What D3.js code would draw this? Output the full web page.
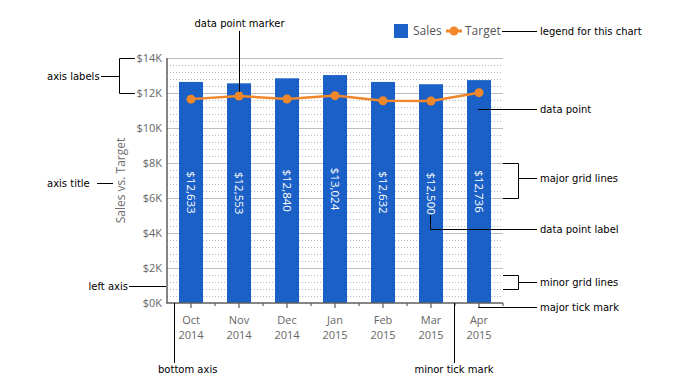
<!DOCTYPE html>
<html>
<head>
<meta charset="utf-8">
<script src="https://cdn.jsdelivr.net/npm/d3@7"></script>
<style>
  html, body { margin: 0; padding: 0; background: #fff; }
  svg { display: block; }
</style>
</head>
<body>
<svg id="chart" width="697" height="388"></svg>
<script>
// ---- data ----
const months = ["Oct", "Nov", "Dec", "Jan", "Feb", "Mar", "Apr"];
const years = ["2014", "2014", "2014", "2015", "2015", "2015", "2015"];
const categories = months.map((m, i) => m + " " + years[i]);
const sales = [12633, 12553, 12840, 13024, 12632, 12500, 12736];
const target = [11650, 11830, 11660, 11850, 11560, 11540, 12020];
const yTicks = [0, 2000, 4000, 6000, 8000, 10000, 12000, 14000];
const yMinorStep = 400;
const seriesNames = ["Sales", "Target"];
const axisTitle = "Sales vs. Target";

// ---- style ----
const barColor = "#1b60c6";
const lineColor = "#f0872b";
const tickColor = "#666";
const annFont = "'DejaVu Sans', Verdana, sans-serif";
const chartFont = "'Open Sans', 'Noto Sans', sans-serif";

const svg = d3.select("#chart");
const L = 167, R = 503, T = 58, B = 303;

const x = d3.scaleBand().domain(categories).range([L, R]).paddingInner(0.5).paddingOuter(0.25);
const y = d3.scaleLinear().domain([0, 14000]).range([B, T]);

// minor grid
const minor = d3.range(0, 14000 + 1, yMinorStep).filter(v => v % 2000 !== 0);
svg.append("g").selectAll("line").data(minor).join("line")
  .attr("x1", L).attr("x2", R)
  .attr("y1", d => Math.round(y(d)) + 0.5).attr("y2", d => Math.round(y(d)) + 0.5)
  .attr("stroke", "#b8b8b8").attr("stroke-width", 1).attr("stroke-dasharray", "1,2");
// major grid
svg.append("g").selectAll("line").data(yTicks.filter(v => v > 0)).join("line")
  .attr("x1", L).attr("x2", R)
  .attr("y1", d => Math.round(y(d)) + 0.5).attr("y2", d => Math.round(y(d)) + 0.5)
  .attr("stroke", "#bdbdbd").attr("stroke-width", 1.2);

// bars
svg.append("g").selectAll("rect").data(sales).join("rect")
  .attr("x", (d, i) => x(categories[i]))
  .attr("width", x.bandwidth())
  .attr("y", d => y(d))
  .attr("height", d => y(0) - y(d))
  .attr("fill", barColor);

// bar labels
svg.append("g").selectAll("text").data(sales).join("text")
  .attr("transform", (d, i) => `translate(${x(categories[i]) + x.bandwidth() / 2},${(y(d) + y(0)) / 2}) rotate(90)`)
  .attr("text-anchor", "middle").attr("dy", "0.35em")
  .attr("font-family", chartFont).attr("font-size", 11.5).attr("fill", "#fff")
  .text(d => "$" + d3.format(",")(d));

// target line
const cx = (d, i) => x(categories[i]) + x.bandwidth() / 2;
svg.append("path").datum(target)
  .attr("d", d3.line().x(cx).y(d => y(d)))
  .attr("fill", "none").attr("stroke", lineColor).attr("stroke-width", 2.5);
svg.append("g").selectAll("circle").data(target).join("circle")
  .attr("cx", cx).attr("cy", d => y(d)).attr("r", 4.5).attr("fill", lineColor);

// y axis
const yAxis = svg.append("g").attr("transform", `translate(${L},0)`)
  .call(d3.axisLeft(y).tickValues(yTicks).tickSize(0).tickPadding(5).tickFormat(d => "$" + d / 1000 + "K"));
yAxis.select(".domain").remove();
yAxis.selectAll("text").attr("font-family", chartFont).attr("font-size", 11).attr("fill", tickColor);

// x axis
const xAxis = svg.append("g").attr("transform", `translate(0,${B})`)
  .call(d3.axisBottom(x).tickSize(5).tickSizeOuter(0).tickPadding(6));
xAxis.select(".domain").remove();
xAxis.selectAll(".tick line").attr("stroke", tickColor).attr("stroke-width", 1.3);
xAxis.selectAll(".tick text").each(function(d, i) {
  const t = d3.select(this).text("").attr("font-family", chartFont).attr("font-size", 11).attr("fill", tickColor);
  t.append("tspan").attr("x", 0).attr("dy", "0.9em").text(months[i]);
  t.append("tspan").attr("x", 0).attr("dy", "1.4em").text(years[i]);
});
// minor x ticks at band boundaries
svg.append("g").selectAll("line").data(categories.slice(1).concat([null])).join("line")
  .attr("x1", (d, i) => L + x.step() * (i + 1)).attr("x2", (d, i) => L + x.step() * (i + 1))
  .attr("y1", B).attr("y2", B + 3).attr("stroke", tickColor).attr("stroke-width", 1.3);

// axis lines
svg.append("line").attr("x1", L).attr("x2", L).attr("y1", T).attr("y2", B + 0.5)
  .attr("stroke", "#5e5e5e").attr("stroke-width", 1.5);
svg.append("line").attr("x1", L - 0.5).attr("x2", R).attr("y1", B).attr("y2", B)
  .attr("stroke", "#5e5e5e").attr("stroke-width", 1.5);

// axis title
svg.append("text").attr("transform", `translate(121,${(T + B) / 2}) rotate(-90)`)
  .attr("text-anchor", "middle").attr("dy", "0.35em")
  .attr("font-family", chartFont).attr("font-size", 12).attr("fill", "#707070")
  .text(axisTitle);

// legend
const lg = svg.append("g").attr("font-family", chartFont).attr("font-size", 12).attr("fill", "#555");
lg.append("rect").attr("x", 394).attr("y", 24).attr("width", 14).attr("height", 14).attr("fill", barColor);
lg.append("text").attr("x", 413).attr("y", 31).attr("dy", "0.35em").text(seriesNames[0]);
lg.append("line").attr("x1", 446).attr("x2", 462).attr("y1", 31).attr("y2", 31).attr("stroke", lineColor).attr("stroke-width", 3);
lg.append("circle").attr("cx", 454).attr("cy", 31).attr("r", 4.5).attr("fill", lineColor);
lg.append("text").attr("x", 465).attr("y", 31).attr("dy", "0.35em").text(seriesNames[1]);

// ---- annotations ----
const ann = svg.append("g").attr("stroke", "#000").attr("stroke-width", 1).attr("fill", "none");
const annT = svg.append("g").attr("font-family", annFont).attr("font-size", 10).attr("fill", "#000");
function path(pts) { ann.append("path").attr("d", d3.line()(pts)); }
function label(txt, px, py, anchor) {
  annT.append("text").attr("x", px).attr("y", py).attr("dy", "0.35em").attr("text-anchor", anchor || "start").text(txt);
}
const nx = Math.round(cx(0, 1)) + 0.5;
// data point marker
path([[nx, 31], [nx, y(target[1]) - 4]]);
label("data point marker", nx, 23, "middle");
// legend for this chart
path([[502, 31.5], [537, 31.5]]);
label("legend for this chart", 540, 31);
// axis labels bracket
path([[135, 58.5], [119.5, 58.5], [119.5, 93.5], [135, 93.5]]);
path([[101, 76.5], [119.5, 76.5]]);
label("axis labels", 47, 76);
// data point
path([[478, 109.5], [537, 109.5]]);
label("data point", 540, 109);
// major grid lines
path([[503, 163.5], [518.5, 163.5], [518.5, 198.5], [503, 198.5]]);
path([[518.5, 178.5], [537, 178.5]]);
label("major grid lines", 540, 178);
// axis title
path([[97, 183.5], [113, 183.5]]);
label("axis title", 47, 183);
// data point label
const mx = Math.round(cx(0, 5)) - 0.5;
path([[mx, 215], [mx, 229.5], [537, 229.5]]);
label("data point label", 540, 229);
// minor grid lines
path([[503, 275.5], [518.5, 275.5], [518.5, 289.5], [503, 289.5]]);
path([[518.5, 282.5], [537, 282.5]]);
label("minor grid lines", 540, 282);
// left axis
path([[129, 286.5], [166, 286.5]]);
label("left axis", 128, 286, "end");
// major tick mark
const ax = Math.round(cx(0, 6)) - 0.5;
path([[ax, 307.5], [537, 307.5]]);
label("major tick mark", 540, 307);
// minor tick mark
path([[454.5, 303], [454.5, 363]]);
label("minor tick mark", 454, 369, "middle");
// bottom axis
path([[174.5, 303], [174.5, 363]]);
label("bottom axis", 158, 369);
</script>
</body>
</html>
